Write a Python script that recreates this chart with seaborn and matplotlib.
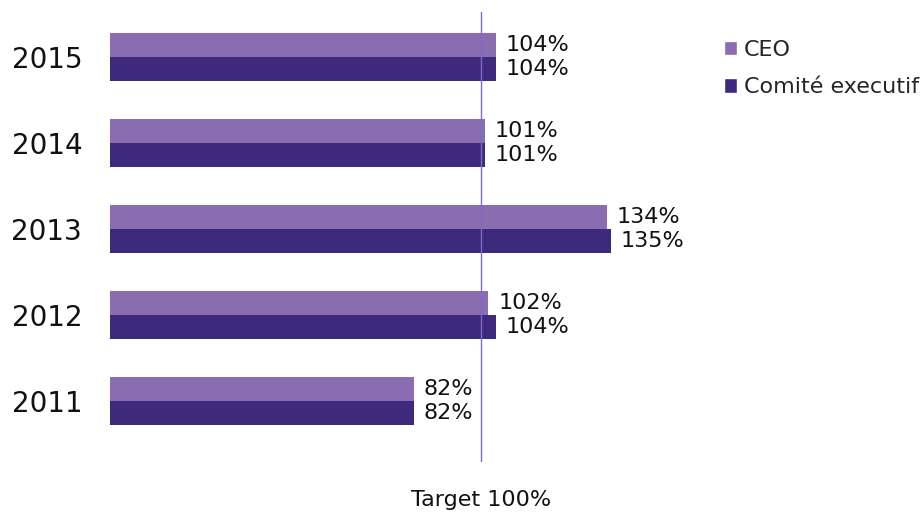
import pandas as pd
import seaborn as sns
import matplotlib.pyplot as plt
from matplotlib.patches import Patch

# === Data ===
years = ["2015", "2014", "2013", "2012", "2011"]
ceo = [104, 101, 134, 102, 82]
comite = [104, 101, 135, 104, 82]
series_names = ["CEO", "Comité executif"]
colors = ["#8a6cb0", "#3d2a7c"]
target = 100

df = pd.DataFrame({
    "year": years * 2,
    "value": ceo + comite,
    "serie": [series_names[0]] * len(years) + [series_names[1]] * len(years),
})

sns.set_style("white")
plt.rcParams["font.family"] = ["DejaVu Sans"]

fig = plt.figure(figsize=(9.23, 5.13), dpi=100)
ax = fig.add_axes([110 / 923, 1 - 462 / 513, (700 - 110) / 923, 450 / 513])

sns.barplot(data=df, x="value", y="year", hue="serie", order=years,
            hue_order=series_names, palette=colors, orient="h",
            width=0.56, saturation=1, legend=False, linewidth=0, ax=ax)

# Value labels
for cont in ax.containers:
    ax.bar_label(cont, labels=[f"{v:.0f}%" for v in cont.datavalues],
                 padding=7, fontsize=16, color="#111111")

# Target line
ax.axvline(target, color="#7e6cc4", lw=1, zorder=5)
ax.annotate(f"Target {target}%", xy=(target, 0), xycoords=("data", "axes fraction"),
            xytext=(0, -38), textcoords="offset pixels", ha="center", va="center",
            fontsize=16, color="#111111", annotation_clip=False)

ax.set_xlim(0, 159)
ax.set_ylim(4.71, -0.52)
ax.set_xticks([])
ax.set_xlabel("")
ax.set_ylabel("")
ax.tick_params(axis="y", length=0, pad=20, labelsize=20, labelcolor="#111111")
sns.despine(ax=ax, left=True, bottom=True)

# Legend
handles = [Patch(facecolor=c, label=n) for c, n in zip(colors, series_names)]
fig.legend(handles=handles, loc="upper left", bbox_to_anchor=(724 / 923, 1 - 40 / 513),
           frameon=False, fontsize=16, handlelength=0.6, handleheight=0.6,
           handletextpad=0.3, labelspacing=0.78, borderaxespad=0, borderpad=0)

fig.savefig("out.png", dpi=100)
